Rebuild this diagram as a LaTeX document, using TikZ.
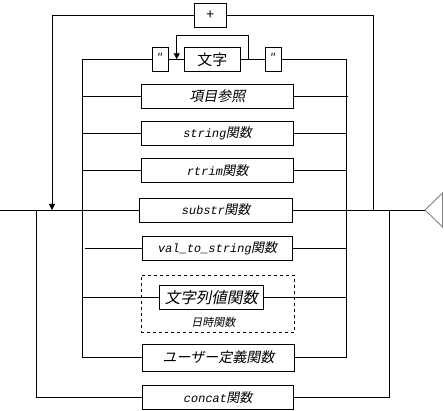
\documentclass[tikz,border=0pt]{standalone}
\usepackage{fontspec}
\usetikzlibrary{arrows.meta}
\newfontfamily\jp{Noto Sans CJK JP}
\newfontfamily\jpi[FakeSlant=0.2]{Noto Sans CJK JP}
\newfontfamily\lat[FakeSlant=0.2]{Liberation Mono}
\tikzset{
  box/.style={draw, line width=0.9pt, inner sep=0pt, minimum height=24pt},
  conn/.style={line width=0.9pt},
  arr/.style={line width=0.9pt, -{Triangle[length=6pt,width=6pt]}},
  itm/.style={font=\jpi\fontsize{13}{13}\selectfont},
}
\begin{document}
\begin{tikzpicture}[x=1pt,y=-1pt]
\useasboundingbox (0,0) rectangle (444,411);
% coordinates
\coordinate (start) at (0,210);
\coordinate (jL1) at (36,210);
\coordinate (jL2) at (52,210);
\coordinate (jL3) at (82.3,210);
\coordinate (jR1) at (346.7,210);
\coordinate (jR2) at (373,210);
\coordinate (jR3) at (389.3,210);
\coordinate (lt) at (82.3,59.3);
\coordinate (rt) at (346.7,59.3);
\coordinate (mr) at (248.3,59.3);
\coordinate (ml) at (176.7,59.3);
\coordinate (tip) at (425,210);
% end triangle
\draw[gray, line width=0.9pt] (tip) -- ++(17.5,-17) -- ++(0,34) -- cycle;
% boxes
\node[box, minimum width=32pt] (plus) at (210.3,15.3) {\jp\fontsize{14}{14}\selectfont +};
\node[box, minimum width=16pt] (q1) at (160.3,59.3) {\raisebox{2pt}{\jp\fontsize{12}{12}\selectfont ″}};
\node[box, minimum width=56pt] (moji) at (212.3,59.3) {\jp\fontsize{15}{15}\selectfont 文字};
\node[box, minimum width=16pt] (q2) at (273.3,59.3) {\raisebox{2pt}{\jp\fontsize{12}{12}\selectfont ″}};
\node[box, minimum width=152pt, itm] (kou) at (217.3,96.3) {\fontsize{14}{14}\selectfont 項目参照};
\node[box, minimum width=152pt, itm] (str) at (217.3,133) {{\lat\fontsize{12}{12}\selectfont string}関数};
\node[box, minimum width=152pt, itm] (rtrim) at (217.3,170.3) {{\lat\fontsize{12}{12}\selectfont rtrim}関数};
\node[box, minimum width=153pt, itm] (substr) at (215.8,210) {{\lat\fontsize{12}{12}\selectfont substr}関数};
\node[box, minimum width=150pt, itm] (val) at (217.3,248.3) {{\lat\fontsize{12}{12}\selectfont val\_to\_string}関数};
\node[draw, dashed, line width=0.8pt, minimum width=153.4pt, minimum height=57.3pt, inner sep=0pt] (dash) at (218,303.7) {};
\node[box, minimum width=104pt, font=\jpi\fontsize{15.5}{15.5}\selectfont] (mojiretsu) at (211.3,297.3) {文字列値関数};
\node[itm, font=\jpi\fontsize{11}{11}\selectfont, inner sep=0pt] (nichiji) at (213.3,322) {日時関数};
\node[box, minimum width=152.4pt, minimum height=27pt, font=\jpi\fontsize{14}{14}\selectfont] (user) at (218.5,357.5) {ユーザー定義関数};
\node[box, minimum width=151pt, itm] (concat) at (217.8,397.3) {{\lat\fontsize{12}{12}\selectfont concat}関数};
% main line
\draw[conn] (start) -- (substr.west);
\draw[conn] (substr.east) -- (tip);
% top plus loop
\draw[conn] (jR2) |- (plus.east);
\draw[arr] (plus.west) -| (jL2);
% outer concat loop
\draw[conn] (jL1) |- (concat.west);
\draw[conn] (concat.east) -| (jR3);
% inner verticals
\draw[conn] (q1.west) -- (lt) |- (user.west);
\draw[conn] (q2.east) -- (rt) |- (user.east);
% quote row
\draw[conn] (q1.east) -- (moji.west);
\draw[conn] (moji.east) -- (q2.west);
\draw[arr] (mr) -- ++(0,-24.3) -| (ml);
% branches
\draw[conn] (kou.west -| lt) -- (kou.west);
\draw[conn] (kou.east) -- ([xshift=1.6pt]kou.east -| rt);
\draw[conn] (str.west -| lt) -- (str.west);
\draw[conn] (str.east) -- (str.east -| rt);
\draw[conn] (rtrim.west -| lt) -- (rtrim.west);
\draw[conn] (rtrim.east) -- (rtrim.east -| rt);
\draw[conn] ([xshift=2.7pt]val.west -| lt) -- (val.west);
\draw[conn] (val.east) -- (val.east -| rt);
\draw[conn] (mojiretsu.west -| lt) -- (mojiretsu.west);
\draw[conn] (mojiretsu.east) -- (mojiretsu.east -| rt);
\end{tikzpicture}
\end{document}
